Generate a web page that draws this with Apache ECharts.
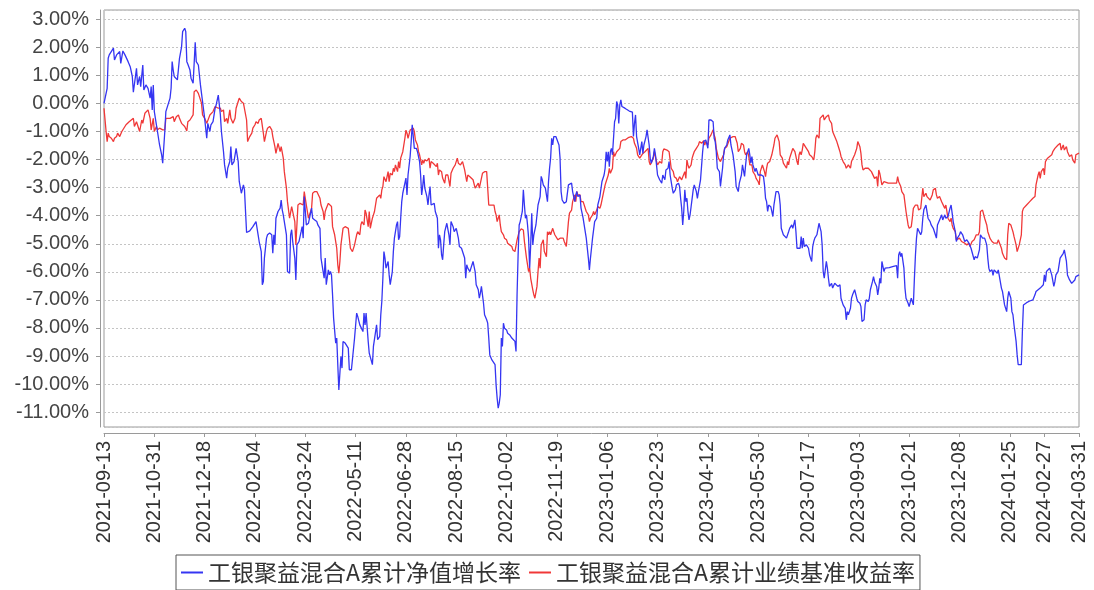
<!DOCTYPE html>
<html><head><meta charset="utf-8">
<script src="https://cdn.jsdelivr.net/npm/echarts@6/dist/echarts.min.js"></script>
<style>html,body{margin:0;padding:0;background:#fff}#c{width:1094px;height:590px}</style>
</head><body><div id="c"></div>
<script>
// x axis: one category per calendar day, day 0 = 2021-09-13
const startDate = '2021-09-13';
const totalDays = 930;
const tickLabels = ['2021-09-13','2021-10-31','2021-12-18','2022-02-04','2022-03-24','2022-05-11','2022-06-28','2022-08-15','2022-10-02','2022-11-19','2023-01-06','2023-02-23','2023-04-12','2023-05-30','2023-07-17','2023-09-03','2023-10-21','2023-12-08','2024-01-25','2024-02-27','2024-03-31'];
const seriesNames = ['工银聚益混合A累计净值增长率', '工银聚益混合A累计业绩基准收益率'];

// [day offset, value %]
const navGrowth = [
[0,0.00],[3,0.54],[4,1.61],[5,1.73],[9,1.97],[10,1.55],[12,1.73],[13,1.67],[15,1.85],[16,1.43],[18,1.87],[20,1.73],[23,1.49],[25,1.31],[27,0.96],[28,0.40],[29,0.36],[31,1.25],[32,0.66],[34,0.96],[35,0.60],[37,1.37],[38,0.48],[40,0.66],[42,0.54],[44,0.19],[45,0.60],[46,-0.23],[47,0.66],[48,-0.29],[50,-0.76],[51,-1.00],[53,-1.48],[55,-1.83],[56,-2.13],[58,-1.00],[59,-0.29],[61,-0.05],[63,0.19],[64,0.54],[65,1.49],[66,1.19],[67,0.96],[70,0.84],[71,0.80],[72,1.61],[74,2.02],[75,2.56],[77,2.68],[78,2.56],[79,1.49],[80,1.40],[82,1.19],[83,0.90],[85,0.72],[86,1.43],[87,2.18],[88,1.49],[90,1.37],[91,1.31],[92,0.66],[93,0.36],[94,0.07],[96,-0.53],[98,-1.24],[99,-0.71],[101,-1.00],[102,-0.76],[104,-0.65],[106,-0.17],[107,-0.05],[109,0.30],[110,-0.05],[111,-0.41],[112,-1.00],[114,-1.72],[115,-2.19],[117,-2.66],[118,-2.31],[120,-2.07],[121,-1.54],[122,-2.19],[124,-2.07],[126,-1.60],[127,-1.66],[128,-2.07],[129,-2.78],[131,-3.20],[133,-2.90],[134,-3.08],[135,-3.85],[136,-4.60],[139,-4.54],[142,-4.39],[145,-4.21],[147,-4.68],[148,-4.92],[150,-5.28],[151,-6.46],[152,-6.35],[153,-5.51],[155,-4.80],[156,-4.68],[158,-4.62],[160,-4.68],[161,-5.34],[162,-4.68],[163,-5.04],[164,-4.09],[166,-3.85],[168,-3.73],[169,-3.44],[170,-3.79],[171,-3.97],[172,-4.21],[174,-4.68],[175,-5.99],[177,-6.05],[178,-4.68],[179,-4.50],[180,-4.92],[182,-5.51],[183,-6.29],[184,-5.04],[186,-4.92],
[188,-4.57],[189,-4.39],[190,-4.80],[191,-3.32],[193,-4.33],[195,-4.27],[196,-4.27],[198,-3.73],[199,-4.09],[201,-4.15],[203,-4.21],[204,-4.33],[206,-4.45],[207,-5.51],[208,-5.75],[209,-5.99],[210,-6.23],[211,-5.51],[212,-6.46],[214,-5.93],[215,-6.11],[216,-5.99],[217,-6.11],[218,-6.82],[219,-7.65],[221,-8.54],[222,-8.36],[223,-9.31],[224,-10.21],[226,-9.02],[227,-9.43],[228,-8.48],[230,-8.54],[231,-8.60],[233,-8.72],[234,-9.49],[236,-9.49],[237,-9.49],[239,-8.36],[241,-7.47],[242,-7.59],[244,-7.89],[245,-7.95],[247,-8.13],[248,-7.47],[249,-7.89],[250,-7.47],[251,-7.53],[252,-8.48],[253,-8.90],[254,-8.96],[256,-9.31],[257,-8.66],[258,-8.60],[260,-7.89],[261,-8.42],[263,-8.30],[264,-7.53],[265,-7.06],[266,-6.23],[267,-5.28],[268,-5.51],[269,-5.87],[271,-5.63],[272,-6.11],[273,-6.46],[275,-5.99],[276,-5.28],[277,-4.80],[278,-4.57],[279,-4.33],[280,-4.21],[281,-4.86],[282,-4.74],[283,-4.09],[284,-3.50],[285,-3.20],[287,-2.84],[288,-2.66],[289,-3.26],[290,-2.55],[291,-2.49],[292,-1.89],[293,-1.36],[294,-0.76],[295,-0.71],[296,-1.60],[298,-1.60],[299,-1.72],[301,-2.07],[302,-2.55],[303,-3.26],[304,-2.96],[305,-2.55],[306,-3.02],[308,-3.32],[309,-3.62],[310,-3.26],[311,-2.96],[312,-3.62],[313,-3.62],[315,-3.56],[316,-3.85],[318,-4.09],[319,-5.16],[320,-4.68],[321,-4.86],[322,-5.40],[323,-5.57],[324,-5.04],[325,-4.57],[327,-4.27],[328,-4.33],[329,-4.68],[330,-5.04],[331,-4.21],[333,-4.39],[334,-4.57],[336,-4.45],[338,-4.80],[339,-5.10],[341,-5.16],[342,-5.22],[344,-5.51],[345,-6.23],[346,-5.75],[347,-5.87],[349,-5.99],[350,-5.87],[352,-5.63],[354,-5.99],[355,-6.46],[357,-6.64],[358,-6.94],[359,-6.76],[360,-6.52],[361,-6.82],[362,-7.12],[363,-7.53],[365,-7.71],[366,-7.83],[367,-8.36],[368,-8.96],
[370,-9.14],[373,-9.31],[374,-10.03],[375,-10.50],[376,-10.86],[377,-10.68],[378,-10.38],[379,-8.36],[380,-8.66],[381,-7.83],[382,-8.01],[384,-8.07],[385,-8.19],[387,-8.25],[389,-8.36],[390,-8.42],[392,-8.48],[393,-8.84],[394,-6.82],[395,-5.40],[396,-4.33],[397,-4.21],[399,-3.85],[400,-3.08],[401,-3.62],[402,-4.09],[403,-3.97],[404,-4.33],[405,-4.80],[406,-5.87],[407,-5.04],[408,-3.91],[409,-5.04],[410,-4.68],[411,-4.74],[412,-4.33],[414,-3.62],[416,-3.32],[417,-2.60],[418,-2.72],[419,-2.90],[421,-3.02],[422,-2.96],[423,-3.50],[424,-2.78],[425,-2.31],[426,-1.95],[427,-1.24],[428,-1.48],[429,-1.18],[431,-1.18],[432,-1.24],[434,-1.48],[435,-1.95],[436,-3.14],[437,-3.44],[438,-3.38],[439,-3.56],[441,-3.50],[443,-2.90],[444,-2.90],[446,-2.84],[447,-3.14],[449,-3.50],[450,-3.26],[451,-3.14],[452,-3.32],[454,-3.26],[455,-3.73],[457,-4.09],[458,-4.33],[460,-4.80],[462,-5.51],[463,-5.93],[464,-5.51],[465,-5.16],[466,-4.80],[467,-4.86],[468,-4.21],[470,-4.09],[471,-3.62],[473,-3.32],[474,-3.26],[475,-2.78],[477,-2.55],[478,-2.31],[479,-1.72],[480,-2.07],[481,-1.72],[482,-2.25],[483,-1.72],[484,-1.60],[485,-1.83],[486,-1.24],[487,-0.65],[488,-0.53],[489,0.07],[490,-0.05],[491,-0.71],[492,-0.05],[493,0.13],[494,-0.11],[496,-0.15],[498,-0.20],[501,-0.27],[504,-0.31],[505,-1.18],[506,-0.71],[507,-0.41],[508,-1.18],[510,-1.60],[511,-1.83],[513,-1.36],[514,-1.78],[515,-1.48],[517,-1.18],[518,-0.94],[520,-1.48],[521,-1.95],[522,-2.13],[524,-1.89],[525,-1.60],[526,-1.83],[527,-2.19],[528,-2.55],[530,-2.72],[532,-2.84],[533,-2.55],[535,-2.72],[536,-2.37],[538,-2.31],[539,-2.07],[540,-2.55],[542,-3.02],[543,-3.20],[545,-3.08],[546,-2.90],[548,-2.84],[549,-2.96],[550,-3.38],[551,-3.73],[552,-4.33],[553,-3.85],[554,-3.08],
[555,-3.50],[556,-3.38],[557,-3.85],[558,-4.15],[559,-3.97],[560,-3.68],[561,-3.38],[562,-3.08],[563,-2.90],[565,-3.14],[566,-3.38],[567,-3.14],[569,-2.72],[570,-2.66],[571,-1.72],[572,-1.36],[573,-1.36],[574,-1.30],[576,-1.60],[577,-0.59],[578,-0.53],[579,-0.59],[581,-0.65],[582,-1.24],[583,-1.36],[584,-1.72],[585,-2.31],[586,-2.37],[587,-2.43],[588,-2.96],[590,-2.31],[591,-1.83],[592,-1.60],[594,-1.48],[595,-1.30],[597,-1.12],[598,-1.48],[600,-1.83],[602,-2.43],[603,-2.96],[605,-3.14],[606,-2.84],[608,-2.55],[609,-2.19],[611,-2.60],[612,-2.19],[613,-1.83],[614,-1.72],[615,-1.60],[616,-1.83],[617,-2.13],[618,-1.89],[619,-2.19],[621,-2.43],[622,-2.31],[624,-2.55],[625,-2.60],[627,-2.55],[629,-2.60],[630,-2.90],[631,-3.38],[632,-3.50],[633,-3.85],[634,-3.62],[636,-3.68],[637,-3.85],[638,-4.03],[639,-3.62],[640,-3.56],[641,-3.14],[643,-3.14],[644,-3.26],[645,-3.62],[646,-4.45],[648,-4.68],[649,-4.74],[651,-4.80],[653,-4.57],[654,-4.45],[656,-4.33],[657,-4.45],[659,-4.15],[660,-4.57],[661,-5.16],[662,-5.16],[664,-5.16],[665,-4.74],[666,-5.16],[667,-4.80],[668,-5.10],[670,-5.04],[672,-5.16],[673,-5.40],[675,-5.63],[676,-5.10],[677,-4.92],[678,-4.80],[680,-4.68],[681,-4.62],[682,-4.27],[684,-4.57],[685,-5.04],[686,-5.99],[687,-6.23],[689,-5.63],[690,-5.87],[691,-6.23],[692,-6.52],[694,-6.41],[695,-6.58],[697,-6.41],[698,-6.46],[700,-6.52],[702,-6.46],[703,-6.94],[705,-7.18],[707,-7.30],[708,-7.71],[709,-7.42],[710,-7.53],[712,-7.30],[713,-6.94],[714,-6.82],[716,-6.64],[718,-6.94],[719,-7.06],[721,-7.12],[722,-7.24],[723,-7.77],[725,-7.71],[726,-7.18],[727,-7.00],[729,-7.06],[730,-6.94],[731,-6.64],[733,-6.35],[734,-6.17],[735,-6.35],[737,-6.52],[738,-6.82],[739,-6.58],[740,-6.23],
[741,-6.41],[742,-5.63],[744,-5.99],[745,-5.87],[746,-5.87],[749,-5.85],[753,-5.81],[756,-5.78],[757,-6.23],[758,-5.40],[759,-5.28],[760,-5.46],[761,-5.34],[763,-5.87],[764,-6.58],[765,-6.94],[767,-7.12],[768,-7.24],[769,-7.24],[770,-6.94],[772,-7.18],[773,-6.23],[774,-5.40],[775,-4.80],[776,-4.45],[777,-4.50],[779,-4.68],[780,-4.57],[781,-4.09],[782,-3.79],[783,-3.73],[784,-3.62],[785,-3.56],[786,-4.09],[788,-4.21],[789,-4.33],[790,-4.39],[791,-4.45],[793,-4.68],[794,-4.80],[795,-4.33],[797,-4.15],[798,-4.09],[799,-3.97],[800,-4.15],[802,-3.97],[803,-4.09],[804,-4.09],[805,-4.03],[807,-3.73],[808,-3.62],[809,-3.91],[810,-4.21],[812,-4.57],[813,-4.92],[814,-4.80],[816,-4.68],[817,-4.57],[818,-4.57],[819,-4.68],[821,-4.92],[822,-4.92],[823,-4.86],[825,-4.98],[826,-5.04],[827,-5.16],[828,-5.22],[830,-5.57],[831,-5.46],[832,-5.51],[833,-5.51],[835,-5.22],[836,-4.68],[837,-4.62],[838,-4.80],[840,-4.80],[842,-5.04],[843,-5.51],[844,-5.87],[845,-5.99],[847,-5.93],[848,-6.13],[849,-5.93],[850,-5.99],[852,-6.05],[853,-5.93],[854,-5.93],[856,-6.58],[857,-6.70],[858,-6.94],[859,-7.18],[861,-7.42],[862,-6.94],[863,-6.70],[865,-6.94],[866,-7.42],[867,-7.53],[868,-7.89],[870,-8.48],[871,-8.96],[872,-9.31],[873,-9.37],[875,-9.31],[876,-8.13],[877,-7.18],[878,-7.12],[880,-7.10],[881,-7.06],[883,-7.04],[884,-7.00],[886,-7.00],[888,-6.82],[889,-6.70],[891,-6.64],[893,-6.58],[894,-6.52],[896,-6.46],[897,-6.11],[898,-6.35],[899,-5.99],[900,-6.05],[902,-5.87],[903,-5.81],[904,-6.11],[906,-6.52],[907,-6.35],[908,-6.11],[910,-5.99],[912,-5.51],[913,-5.46],[915,-5.34],[916,-5.22],[918,-5.63],[919,-6.11],[921,-6.29],[923,-6.41],[924,-6.35],[926,-6.29],[927,-6.17],[930,-6.11]
];

const benchmarkReturn = [
[0,-0.17],[2,-1.00],[3,-1.36],[4,-1.06],[5,-1.18],[7,-1.24],[9,-1.36],[10,-1.24],[12,-1.18],[13,-1.06],[15,-1.18],[17,-1.00],[18,-0.94],[21,-0.76],[24,-0.65],[28,-0.53],[29,-0.82],[31,-0.65],[32,-0.71],[34,-1.00],[36,-0.59],[37,-0.71],[39,-0.35],[40,-0.29],[42,-0.23],[44,-0.53],[45,-0.94],[47,-0.53],[48,-1.00],[50,-0.82],[51,-0.94],[53,-0.88],[56,-0.94],[58,-0.94],[59,-0.53],[63,-0.53],[64,-0.59],[66,-0.47],[67,-0.65],[69,-0.47],[71,-0.41],[72,-0.53],[74,-0.71],[75,-0.65],[77,-0.82],[79,-0.98],[80,-0.65],[82,-0.59],[83,-0.53],[85,-0.41],[86,0.42],[88,0.48],[90,0.36],[91,0.42],[93,0.01],[94,-0.41],[96,-0.53],[98,-0.71],[99,-0.65],[101,-0.41],[104,-0.29],[106,-0.11],[107,-0.05],[109,-0.17],[111,-0.17],[112,-0.29],[114,-0.23],[115,-0.65],[117,-0.53],[118,-0.71],[120,-0.23],[121,-0.53],[123,-0.71],[125,-0.53],[126,-0.17],[128,0.07],[129,0.19],[131,0.07],[133,0.01],[134,0.07],[136,-0.59],[137,-1.36],[139,-1.18],[141,-1.06],[142,-0.88],[144,-0.76],[145,-0.65],[147,-0.71],[148,-0.59],[150,-0.53],[152,-1.06],[153,-1.36],[155,-1.00],[156,-0.88],[158,-0.82],[160,-0.94],[161,-1.18],[163,-1.54],[164,-1.78],[166,-1.42],[168,-1.72],[169,-1.54],[171,-1.95],[172,-2.43],[174,-3.02],[175,-3.50],[177,-4.09],[179,-3.68],[180,-3.73],[182,-4.21],[183,-5.04],[184,-4.33],[185,-3.62],[187,-3.56],
[188,-3.56],[190,-3.62],[191,-3.14],[193,-3.62],[195,-4.09],[196,-3.97],[198,-3.74],[199,-3.20],[201,-3.14],[203,-3.14],[204,-3.20],[206,-3.38],[207,-3.62],[209,-3.85],[210,-4.15],[211,-3.85],[212,-3.74],[214,-3.56],[215,-3.62],[217,-3.67],[218,-4.39],[220,-4.68],[222,-5.16],[223,-5.75],[224,-6.05],[225,-5.63],[226,-5.04],[228,-4.45],[230,-4.39],[231,-4.45],[233,-4.45],[234,-4.80],[235,-5.16],[237,-5.28],[238,-5.28],[239,-5.04],[241,-4.68],[242,-4.57],[244,-4.68],[245,-4.33],[246,-4.21],[248,-4.33],[249,-3.80],[250,-3.91],[252,-4.39],[253,-3.85],[254,-4.45],[256,-4.09],[257,-3.97],[258,-3.85],[260,-3.38],[261,-3.44],[263,-3.26],[264,-3.38],[265,-3.08],[266,-2.96],[267,-2.61],[268,-2.55],[269,-2.79],[271,-2.43],[272,-2.79],[273,-2.49],[275,-2.55],[276,-2.31],[277,-2.43],[278,-2.19],[280,-2.43],[281,-2.07],[282,-2.31],[283,-1.95],[284,-1.95],[285,-1.72],[287,-1.24],[288,-0.95],[289,-1.06],[290,-1.24],[292,-0.95],[293,-1.00],[295,-0.88],[296,-1.00],[297,-1.30],[299,-1.48],[300,-1.72],[301,-1.83],[303,-2.19],[304,-2.01],[305,-2.13],[306,-2.01],[308,-2.05],[309,-2.07],[310,-1.95],[311,-2.31],[312,-2.07],[314,-2.13],[315,-2.19],[317,-2.25],[318,-2.13],[319,-2.55],[320,-2.37],[322,-2.43],[323,-2.66],[325,-2.84],[326,-2.55],[328,-2.55],[330,-2.96],[331,-2.49],[333,-2.31],[335,-2.19],[336,-2.25],[337,-1.95],[338,-2.13],[340,-2.19],[341,-2.25],[342,-2.07],[344,-2.37],[346,-2.79],[347,-2.55],[349,-2.61],[350,-2.61],[352,-2.72],[354,-3.02],[355,-2.96],[357,-2.84],[358,-3.02],[360,-2.67],[361,-2.49],[363,-2.43],[365,-2.43],[366,-3.02],[367,-3.62],[369,-3.62],
[370,-3.62],[372,-3.62],[373,-3.85],[374,-3.97],[375,-4.21],[376,-4.27],[377,-3.97],[378,-4.33],[379,-4.57],[381,-4.68],[382,-4.80],[384,-4.86],[385,-4.98],[387,-5.04],[389,-5.10],[390,-5.22],[392,-5.28],[393,-5.22],[394,-4.86],[395,-4.80],[396,-4.57],[398,-4.47],[399,-4.45],[400,-4.51],[401,-4.92],[402,-5.22],[403,-5.51],[404,-5.57],[405,-5.99],[406,-5.87],[407,-6.23],[408,-6.23],[409,-6.64],[410,-6.82],[411,-6.94],[412,-6.94],[413,-6.52],[414,-5.99],[415,-5.51],[416,-5.87],[417,-5.04],[419,-4.86],[420,-5.28],[422,-5.46],[423,-4.57],[424,-4.68],[425,-4.57],[426,-4.68],[428,-4.45],[429,-4.57],[430,-4.68],[431,-4.74],[433,-4.86],[435,-4.80],[436,-4.83],[438,-4.80],[439,-4.92],[441,-5.10],[443,-4.21],[444,-3.91],[446,-3.80],[447,-3.50],[449,-3.26],[450,-3.50],[451,-3.14],[452,-3.26],[454,-3.26],[455,-3.50],[457,-3.50],[458,-3.56],[460,-3.85],[462,-3.97],[463,-4.21],[464,-4.09],[466,-3.97],[467,-3.85],[468,-3.97],[470,-3.80],[471,-3.67],[473,-3.74],[474,-3.62],[476,-3.26],[478,-2.90],[479,-2.78],[481,-2.55],[482,-2.31],[483,-2.49],[485,-2.31],[486,-1.72],[487,-1.89],[489,-1.72],[490,-1.78],[492,-1.60],[493,-1.36],[495,-1.30],[497,-1.30],[498,-1.24],[500,-1.22],[501,-1.24],[503,-1.18],[505,-1.24],[506,-1.42],[508,-1.60],[509,-1.83],[511,-1.95],[512,-1.95],[514,-1.78],[516,-1.72],[517,-1.72],[519,-1.60],[520,-2.07],[521,-2.19],[522,-2.13],[524,-1.95],[525,-1.72],[527,-2.07],[528,-2.19],[530,-2.07],[532,-2.13],[533,-1.72],[534,-1.62],[535,-1.66],[537,-1.66],[539,-1.72],[540,-2.01],[541,-2.31],[543,-2.43],[544,-2.61],[546,-2.67],[547,-2.79],[549,-2.61],[551,-2.72],[552,-2.72],[554,-2.43],
[555,-2.67],[556,-2.01],[557,-2.19],[558,-2.31],[560,-2.19],[561,-1.95],[562,-1.83],[563,-1.72],[565,-1.60],[567,-1.48],[568,-1.36],[570,-1.42],[571,-1.48],[572,-1.33],[573,-1.48],[574,-1.36],[575,-1.33],[576,-1.48],[577,-1.24],[579,-1.12],[580,-1.06],[581,-0.94],[582,-1.12],[583,-1.24],[584,-1.60],[586,-1.95],[587,-1.89],[588,-2.07],[589,-2.07],[591,-1.83],[592,-1.60],[594,-1.54],[595,-1.48],[597,-1.24],[598,-1.24],[600,-1.18],[602,-1.18],[603,-1.24],[604,-1.42],[605,-1.72],[607,-1.60],[608,-1.42],[610,-1.48],[611,-1.72],[612,-1.83],[614,-1.72],[615,-1.89],[616,-2.19],[618,-2.19],[619,-2.43],[621,-2.55],[622,-2.67],[624,-2.79],[625,-2.90],[626,-2.43],[628,-2.19],[629,-2.31],[630,-2.43],[631,-2.61],[632,-2.31],[633,-2.13],[635,-2.07],[636,-2.13],[637,-1.83],[638,-1.89],[639,-1.48],[640,-1.24],[642,-1.12],[643,-1.24],[644,-1.36],[645,-1.83],[647,-1.95],[648,-2.13],[649,-2.19],[651,-2.31],[652,-2.07],[653,-2.19],[654,-1.95],[656,-1.72],[657,-1.60],[658,-1.54],[659,-1.72],[660,-1.89],[661,-2.07],[662,-2.19],[663,-1.83],[664,-1.72],[665,-1.83],[666,-1.66],[667,-1.42],[668,-1.48],[670,-1.60],[671,-1.60],[672,-1.72],[673,-1.83],[675,-1.89],[676,-1.95],[677,-2.01],[678,-1.72],[679,-1.24],[680,-1.12],[682,-1.24],[683,-0.53],[684,-0.47],[686,-0.41],[687,-0.59],[689,-0.47],[691,-0.41],[692,-0.59],[694,-0.71],[695,-1.00],[697,-1.18],[699,-1.36],[700,-1.48],[702,-1.72],[703,-1.89],[705,-2.07],[707,-2.19],[708,-2.31],[709,-2.37],[710,-2.19],[712,-2.31],[713,-2.07],[714,-2.01],[716,-1.83],[718,-1.60],[719,-1.36],[721,-1.54],[722,-1.78],[723,-2.19],[724,-2.37],[726,-2.31],[727,-2.25],[729,-2.31],[730,-2.37],[732,-2.43],[733,-2.49],[735,-2.67],[737,-2.61],[738,-2.96],[739,-2.37],[740,-2.49],
[741,-2.55],[742,-2.90],[744,-2.79],[745,-2.84],[748,-2.84],[751,-2.84],[754,-2.84],[756,-2.84],[757,-2.61],[758,-2.79],[760,-2.96],[761,-3.14],[762,-3.20],[763,-3.26],[765,-3.85],[766,-4.09],[767,-4.33],[768,-4.45],[770,-4.39],[771,-4.09],[772,-3.74],[774,-3.62],[775,-3.67],[776,-3.62],[777,-3.80],[779,-3.74],[780,-3.38],[781,-3.02],[782,-3.32],[784,-3.20],[785,-3.32],[786,-3.38],[788,-3.44],[789,-3.38],[790,-3.26],[791,-3.08],[793,-3.02],[794,-3.26],[795,-3.38],[797,-3.32],[798,-3.26],[799,-3.50],[800,-3.56],[802,-3.74],[803,-3.62],[804,-3.85],[805,-4.09],[807,-4.21],[808,-4.09],[809,-4.33],[810,-4.45],[812,-4.57],[813,-4.86],[814,-4.92],[816,-4.80],[817,-4.86],[818,-4.92],[819,-4.86],[821,-4.98],[822,-4.92],[823,-5.04],[825,-4.98],[826,-5.10],[827,-5.04],[828,-4.92],[830,-4.86],[831,-4.80],[832,-4.68],[834,-4.68],[835,-4.57],[836,-3.85],[838,-3.80],[839,-3.85],[840,-4.09],[842,-4.33],[843,-4.57],[844,-4.68],[845,-4.80],[847,-4.92],[848,-4.86],[849,-4.98],[850,-4.92],[852,-4.98],[853,-4.86],[854,-4.92],[856,-5.16],[857,-5.34],[858,-5.28],[859,-5.51],[861,-5.57],[862,-4.68],[863,-4.27],[865,-4.33],[866,-4.45],[867,-4.57],[868,-4.74],[870,-5.04],[871,-5.28],[872,-5.22],[873,-5.04],[875,-4.68],[876,-3.85],[877,-3.74],[878,-3.67],[880,-3.62],[881,-3.56],[883,-3.50],[884,-3.44],[886,-3.38],[888,-3.32],[889,-2.90],[891,-2.55],[892,-2.43],[893,-2.67],[894,-2.43],[896,-2.31],[897,-2.55],[898,-2.07],[899,-2.01],[900,-1.95],[902,-1.89],[904,-1.83],[905,-1.72],[907,-1.60],[908,-1.66],[910,-1.48],[912,-1.42],[913,-1.66],[915,-1.48],[916,-1.66],[918,-1.54],[919,-1.72],[921,-1.89],[923,-1.83],[924,-2.01],[926,-2.13],[927,-1.83],[928,-1.77],[930,-1.77]
];

function buildDates(start, n) {
  const out = [];
  const t0 = Date.UTC(+start.slice(0,4), +start.slice(5,7) - 1, +start.slice(8,10));
  for (let i = 0; i <= n; i++) {
    const d = new Date(t0 + i * 86400000);
    const m = String(d.getUTCMonth() + 1).padStart(2, '0');
    const dd = String(d.getUTCDate()).padStart(2, '0');
    out.push(d.getUTCFullYear() + '-' + m + '-' + dd);
  }
  return out;
}
const categories = buildDates(startDate, totalDays);
const tickSet = new Set(tickLabels);
const showTick = (idx, val) => tickSet.has(val);

const chart = echarts.init(document.getElementById('c'), null, {renderer: 'canvas'});
chart.setOption({
  animation: false,
  backgroundColor: '#ffffff',
  textStyle: {fontFamily: 'Liberation Sans, Arial, sans-serif'},
  grid: {left: 104, right: 15, top: 10, bottom: 163, show: true, borderColor: '#9a9a9a', borderWidth: 1, backgroundColor: '#ffffff'},
  legend: {
    left: 176, top: 555,
    data: seriesNames,
    icon: 'rect', itemWidth: 22, itemHeight: 2, itemGap: 8,
    borderColor: '#555', borderWidth: 1, padding: [6, 5, 6, 5],
    textStyle: {fontSize: 23, color: '#333', fontFamily: 'Noto Sans CJK SC, sans-serif'}
  },
  xAxis: {
    type: 'category', data: categories, boundaryGap: false, offset: 6,
    axisLine: {show: true, onZero: false, lineStyle: {color: '#9a9a9a', width: 1}},
    axisTick: {show: true, interval: showTick, length: 4, lineStyle: {color: '#9a9a9a'}},
    axisLabel: {interval: showTick, rotate: 90, fontSize: 20, color: '#333', margin: 8},
    splitLine: {show: false}
  },
  yAxis: {
    type: 'value', min: -11.53, max: 3.33, splitNumber: 15, minInterval: 1, maxInterval: 1, offset: 4,
    axisLine: {show: true, onZero: false, lineStyle: {color: '#9a9a9a', width: 1}},
    axisTick: {show: true, length: 4, lineStyle: {color: '#9a9a9a'}},
    axisLabel: {fontSize: 20, color: '#444', margin: 11, showMinLabel: false, showMaxLabel: false,
      formatter: v => v.toFixed(2) + '%'},
    splitLine: {show: true, lineStyle: {color: '#c4c4c4', type: [2, 2], width: 1}}
  },
  series: [
    {name: seriesNames[0], type: 'line', data: navGrowth, symbol: 'none', z: 3,
     lineStyle: {color: '#3535f2', width: 1.3}, itemStyle: {color: '#3535f2'}},
    {name: seriesNames[1], type: 'line', data: benchmarkReturn, symbol: 'none', z: 2,
     lineStyle: {color: '#f03838', width: 1.3}, itemStyle: {color: '#f03838'}}
  ]
});
</script>
</body></html>
